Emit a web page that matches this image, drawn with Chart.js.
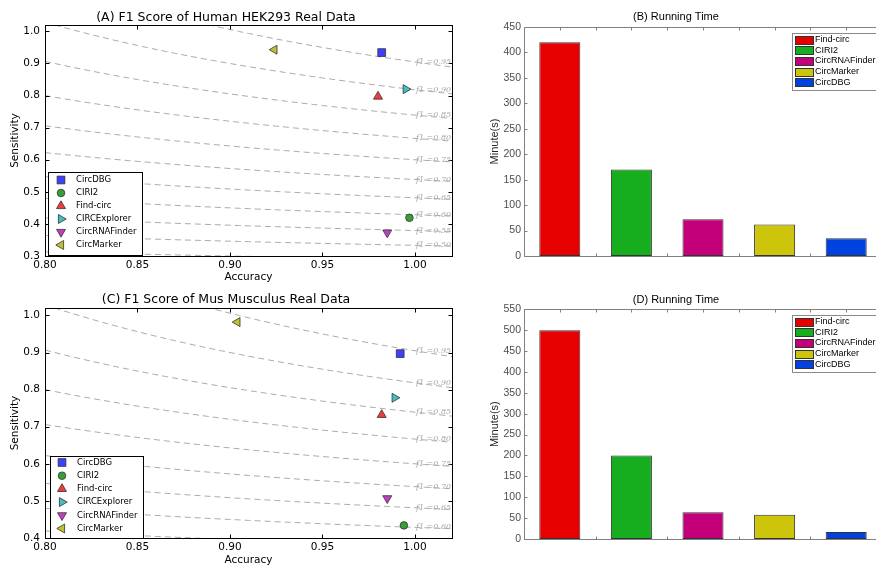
<!DOCTYPE html>
<html>
<head>
<meta charset="utf-8">
<title>CircDBG comparison</title>
<script src="https://cdn.jsdelivr.net/npm/chart.js@4.4.1/dist/chart.umd.min.js"></script>
<style>
    html, body { margin: 0; padding: 0; background: #fff; width: 876px; height: 565px; overflow: hidden; }
    canvas { position: absolute; }
</style>
</head>
<body>
<canvas id="chartA" width="496" height="286" style="left:0px;top:0px"></canvas>
<canvas id="chartB" width="466" height="266" style="left:470px;top:0px"></canvas>
<canvas id="chartC" width="496" height="288" style="left:0px;top:282px"></canvas>
<canvas id="chartD" width="466" height="267" style="left:470px;top:282px"></canvas>
<script>
// ============================== DATA ==============================
const scatterTools = ['CircDBG', 'CIRI2', 'Find-circ', 'CIRCExplorer', 'CircRNAFinder', 'CircMarker'];
const humanAccuracy = [0.982, 0.997, 0.980, 0.995, 0.985, 0.924];
const humanSensitivity = [0.934, 0.419, 0.797, 0.820, 0.373, 0.943];
const musAccuracy = [0.992, 0.994, 0.982, 0.989, 0.985, 0.904];
const musSensitivity = [0.897, 0.434, 0.732, 0.778, 0.507, 0.982];

const f1Levels = [0.45, 0.50, 0.55, 0.60, 0.65, 0.70, 0.75, 0.80, 0.85, 0.90, 0.95];
const accuracyTicks = [0.80, 0.85, 0.90, 0.95, 1.00];
const humanSensTicks = [0.3, 0.4, 0.5, 0.6, 0.7, 0.8, 0.9, 1.0];
const musSensTicks = [0.4, 0.5, 0.6, 0.7, 0.8, 0.9, 1.0];

const barTools = ['Find-circ', 'CIRI2', 'CircRNAFinder', 'CircMarker', 'CircDBG'];
const humanMinutes = [420, 170, 72, 62, 35];
const musMinutes = [500, 200, 64, 58, 17];
const humanMinuteTicks = [0, 50, 100, 150, 200, 250, 300, 350, 400, 450];
const musMinuteTicks = [0, 50, 100, 150, 200, 250, 300, 350, 400, 450, 500, 550];

// ========== Styles ==========
const mplFont = 'DejaVu Sans';
const matFont = 'Liberation Sans';

const markerStyles = {
    'CircDBG':       { color: '#3f3fff', style: 'rect',     rotation: 0,   radius: 5.5 },
    'CIRI2':         { color: '#35a035', style: 'circle',   rotation: 0,   radius: 3.8 },
    'Find-circ':     { color: '#f03c3c', style: 'triangle', rotation: 0,   radius: 5.2 },
    'CIRCExplorer':  { color: '#40c0c0', style: 'triangle', rotation: 90,  radius: 5.2 },
    'CircRNAFinder': { color: '#c040c0', style: 'triangle', rotation: 180, radius: 5.2 },
    'CircMarker':    { color: '#c0c030', style: 'triangle', rotation: 270, radius: 5.2 }
};
const barColors = ['#e60000', '#16ae1e', '#c3007a', '#cdc50c', '#0042e0'];

// ========== Helpers ==========
function isoSensitivity(f, acc) {
    return f * acc / (2 * acc - f);
}

function isoCurve(f) {
    const pts = [];
    for (let i = 0; i <= 44; i++) {
        const acc = 0.80 + i * 0.005;
        pts.push({ x: acc, y: isoSensitivity(f, acc) });
    }
    return pts;
}

function setTicks(values) {
    return scale => { scale.ticks = values.map(v => ({ value: v })); };
}

function drawMarker(ctx, opts, x, y) {
    if (Chart.helpers && Chart.helpers.drawPoint) {
        Chart.helpers.drawPoint(ctx, opts, x, y);
        return;
    }
    ctx.beginPath();
    ctx.arc(x, y, opts.radius, 0, Math.PI * 2);
    ctx.fill();
    ctx.stroke();
}

// ========== Plugins ==========
// matplotlib style frame with inward ticks on all four sides
const mplFrame = {
    id: 'mplFrame',
    afterDatasetsDraw(chart) {
        const { ctx, chartArea: a, scales: { x, y } } = chart;
        const L = Math.round(a.left) + 0.5, R = Math.round(a.right) + 0.5;
        const T = Math.round(a.top) + 0.5, B = Math.round(a.bottom) + 0.5;
        ctx.save();
        ctx.strokeStyle = '#000';
        ctx.lineWidth = 1;
        ctx.beginPath();
        x.ticks.forEach(t => {
            const px = Math.round(x.getPixelForValue(t.value)) + 0.5;
            ctx.moveTo(px, B); ctx.lineTo(px, B - 4);
            ctx.moveTo(px, T); ctx.lineTo(px, T + 4);
        });
        y.ticks.forEach(t => {
            const py = Math.round(y.getPixelForValue(t.value)) + 0.5;
            ctx.moveTo(L, py); ctx.lineTo(L + 4, py);
            ctx.moveTo(R, py); ctx.lineTo(R - 4, py);
        });
        ctx.stroke();
        ctx.strokeRect(L, T, R - L, B - T);
        ctx.restore();
    }
};

// f1 labels at accuracy = 1.0
const f1Labels = {
    id: 'f1Labels',
    afterDatasetsDraw(chart) {
        const { ctx, scales: { x, y } } = chart;
        ctx.save();
        ctx.font = 'italic 8px "DejaVu Serif"';
        ctx.fillStyle = '#a8a8a8';
        ctx.textBaseline = 'middle';
        ctx.textAlign = 'left';
        f1Levels.forEach(f => {
            const s = isoSensitivity(f, 1.0);
            if (s < y.min || s > y.max) return;
            ctx.fillText('f1 =' + f.toFixed(2), x.getPixelForValue(1.0) + 1, y.getPixelForValue(s));
        });
        ctx.restore();
    }
};

// legend box with markers, placed inside the plot
const markerLegend = {
    id: 'markerLegend',
    afterDraw(chart, args, opts) {
        const { ctx } = chart;
        const items = chart.data.datasets.filter(d => !d.showLine);
        ctx.save();
        ctx.fillStyle = '#fff';
        ctx.fillRect(opts.left, opts.top, opts.width, opts.height);
        ctx.strokeStyle = '#000';
        ctx.lineWidth = 1;
        ctx.strokeRect(opts.left + 0.5, opts.top + 0.5, opts.width, opts.height);
        items.forEach((d, i) => {
            const cy = opts.top + opts.firstRow + i * opts.rowGap;
            ctx.fillStyle = d.backgroundColor;
            ctx.strokeStyle = d.borderColor;
            ctx.lineWidth = d.borderWidth;
            drawMarker(ctx, { pointStyle: d.pointStyle, rotation: d.pointRotation, radius: d.pointRadius, borderWidth: d.borderWidth }, opts.left + opts.markerX, cy);
            ctx.fillStyle = '#000';
            ctx.font = '8.5px "' + mplFont + '"';
            ctx.textBaseline = 'middle';
            ctx.textAlign = 'left';
            ctx.fillText(d.label, opts.left + opts.textX, cy);
        });
        ctx.restore();
    }
};

// MATLAB style axes for the bar charts
const matlabAxes = {
    id: 'matlabAxes',
    afterDatasetsDraw(chart) {
        const { ctx, chartArea: a, scales: { x, y } } = chart;
        const L = Math.round(a.left) + 0.5, R = Math.round(a.right) + 0.5;
        const T = Math.round(a.top) + 0.5, B = Math.round(a.bottom) + 0.5;
        const n = chart.data.labels.length;
        ctx.save();
        ctx.strokeStyle = '#808080';
        ctx.lineWidth = 1;
        ctx.beginPath();
        ctx.moveTo(L, T); ctx.lineTo(R, T);
        ctx.moveTo(L, T); ctx.lineTo(L, B);
        ctx.moveTo(L, B); ctx.lineTo(R, B);
        y.ticks.forEach(t => {
            const py = Math.round(y.getPixelForValue(t.value)) + 0.5;
            ctx.moveTo(L, py); ctx.lineTo(L + 3, py);
        });
        for (let i = 0; i < n; i++) {
            const c = x.getPixelForValue(i);
            const c2 = x.getPixelForValue(i + 1);
            const mid = Math.round((c + c2) / 2) + 0.5;
            const pc = Math.round(c) + 0.5;
            ctx.moveTo(pc, T); ctx.lineTo(pc, T + 3);
            ctx.moveTo(mid, T); ctx.lineTo(mid, T + 3);
            if (i < n - 1) { ctx.moveTo(mid, B); ctx.lineTo(mid, B - 3); }
        }
        ctx.stroke();
        ctx.restore();
    }
};

// legend box with colour swatches, top right of the plot
const swatchLegend = {
    id: 'swatchLegend',
    afterDraw(chart, args, opts) {
        const { ctx } = chart;
        const ds = chart.data.datasets[0];
        ctx.save();
        ctx.fillStyle = '#fff';
        ctx.fillRect(opts.left, opts.top, opts.width, opts.height);
        ctx.strokeStyle = '#8a8a8a';
        ctx.lineWidth = 1;
        ctx.strokeRect(opts.left + 0.5, opts.top + 0.5, opts.width, opts.height);
        chart.data.labels.forEach((lab, i) => {
            const cy = opts.top + opts.firstRow + i * opts.rowGap;
            ctx.fillStyle = ds.backgroundColor[i];
            ctx.fillRect(opts.left + 3, Math.round(cy - 4), 18, 8);
            ctx.strokeStyle = '#333';
            ctx.strokeRect(opts.left + 3.5, Math.round(cy - 4) + 0.5, 18, 8);
            ctx.fillStyle = '#000';
            ctx.font = '9px "' + matFont + '"';
            ctx.textBaseline = 'middle';
            ctx.textAlign = 'left';
            ctx.fillText(lab, opts.left + 23, cy);
        });
        ctx.restore();
    }
};

// ========== Scatter (F1) charts ==========
function buildScatterChart(canvasId, title, accuracy, sensitivity, sensTicks, geo) {
    const datasets = [];
    scatterTools.forEach((tool, i) => {
        const m = markerStyles[tool];
        datasets.push({
            label: tool,
            data: [{ x: accuracy[i], y: sensitivity[i] }],
            pointStyle: m.style,
            pointRotation: m.rotation,
            pointRadius: m.radius,
            pointHoverRadius: m.radius,
            backgroundColor: m.color,
            borderColor: '#333',
            borderWidth: 0.8,
            order: 0
        });
    });
    f1Levels.forEach(f => {
        datasets.push({
            label: 'f1=' + f.toFixed(2),
            data: isoCurve(f),
            showLine: true,
            pointRadius: 0,
            borderColor: '#ababab',
            borderWidth: 1,
            borderDash: [6, 4],
            fill: false,
            order: 10
        });
    });

    new Chart(document.getElementById(canvasId), {
        type: 'scatter',
        data: { datasets },
        options: {
            responsive: false,
            animation: false,
            devicePixelRatio: 1,
            events: [],
            layout: { padding: { left: 0, right: 44, top: 0, bottom: 0 } },
            scales: {
                x: {
                    type: 'linear',
                    min: 0.8,
                    max: 1.02,
                    afterBuildTicks: setTicks(accuracyTicks),
                    afterFit: s => { s.height = geo.xHeight; },
                    grid: { display: false, drawTicks: false },
                    border: { display: false },
                    ticks: {
                        autoSkip: false, maxRotation: 0, padding: 3,
                        color: '#000', font: { family: mplFont, size: 10.5 },
                        callback: v => Number(v).toFixed(2)
                    },
                    title: {
                        display: true, text: 'Accuracy', color: '#000',
                        font: { family: mplFont, size: 10.5 },
                        padding: { top: 0, bottom: geo.xTitlePad }
                    }
                },
                y: {
                    type: 'linear',
                    min: sensTicks[0],
                    max: 1.02,
                    afterBuildTicks: setTicks(sensTicks),
                    afterFit: s => { s.width = 45; },
                    grid: { display: false, drawTicks: false },
                    border: { display: false },
                    ticks: {
                        autoSkip: false, padding: 5,
                        color: '#000', font: { family: mplFont, size: 10.5 },
                        callback: v => Number(v).toFixed(1)
                    },
                    title: {
                        display: true, text: 'Sensitivity', color: '#000',
                        font: { family: mplFont, size: 10.5 },
                        padding: { top: 9, bottom: 0 }
                    }
                }
            },
            plugins: {
                legend: { display: false },
                tooltip: { enabled: false },
                title: {
                    display: true, text: title, color: '#000',
                    font: { family: mplFont, size: 12.5, weight: 'normal' },
                    padding: { top: geo.titleTop, bottom: geo.titleBottom }
                },
                markerLegend: geo.legend
            }
        },
        plugins: [mplFrame, f1Labels, markerLegend]
    });
}

// ========== Bar (running time) charts ==========
function buildBarChart(canvasId, title, minutes, minuteTicks, geo) {
    new Chart(document.getElementById(canvasId), {
        type: 'bar',
        data: {
            labels: barTools,
            datasets: [{
                label: 'Running time',
                data: minutes,
                backgroundColor: barColors,
                borderColor: '#333',
                borderWidth: 1,
                borderSkipped: false,
                barPercentage: 0.573,
                categoryPercentage: 1.0
            }]
        },
        options: {
            responsive: false,
            animation: false,
            devicePixelRatio: 1,
            events: [],
            layout: { padding: { left: 0, right: 54, top: 0, bottom: 10 } },
            scales: {
                x: { display: false, offset: true },
                y: {
                    min: 0,
                    max: minuteTicks[minuteTicks.length - 1],
                    afterBuildTicks: setTicks(minuteTicks),
                    afterFit: s => { s.width = 54; },
                    grid: { display: false, drawTicks: false },
                    border: { display: false },
                    ticks: {
                        autoSkip: false, padding: 3,
                        color: '#4d4d4d', font: { family: matFont, size: 10.5 }
                    },
                    title: {
                        display: true, text: 'Minute(s)', color: '#262626',
                        font: { family: matFont, size: 11 },
                        padding: { top: 18, bottom: 0 }
                    }
                }
            },
            plugins: {
                legend: { display: false },
                tooltip: { enabled: false },
                title: {
                    display: true, text: title, color: '#000',
                    font: { family: matFont, size: 11, weight: 'normal' },
                    padding: { top: geo.titleTop, bottom: geo.titleBottom }
                },
                swatchLegend: { left: 322, top: 33, width: 85, height: 57, firstRow: 6.5, rowGap: 10.7 }
            }
        },
        plugins: [matlabAxes, swatchLegend]
    });
}

// ========== INIT ==========
buildScatterChart('chartA', '(A) F1 Score of Human HEK293 Real Data', humanAccuracy, humanSensitivity, humanSensTicks, {
    titleTop: 9.8, titleBottom: 0.2, xHeight: 30, xTitlePad: 2,
    legend: { left: 48, top: 172, width: 94, height: 83, markerX: 13, textX: 28, firstRow: 8, rowGap: 13 }
});
buildScatterChart('chartC', '(C) F1 Score of Mus Musculus Real Data', musAccuracy, musSensitivity, musSensTicks, {
    titleTop: 10.5, titleBottom: 0.5, xHeight: 32, xTitlePad: 3,
    legend: { left: 50, top: 174, width: 93, height: 82, markerX: 12, textX: 27, firstRow: 6.5, rowGap: 13.2 }
});
buildBarChart('chartB', '(B) Running Time', humanMinutes, humanMinuteTicks, { titleTop: 10.7, titleBottom: 3.1 });
buildBarChart('chartD', '(D) Running Time', musMinutes, musMinuteTicks, { titleTop: 11.4, titleBottom: 2.7 });
</script>
</body>
</html>
